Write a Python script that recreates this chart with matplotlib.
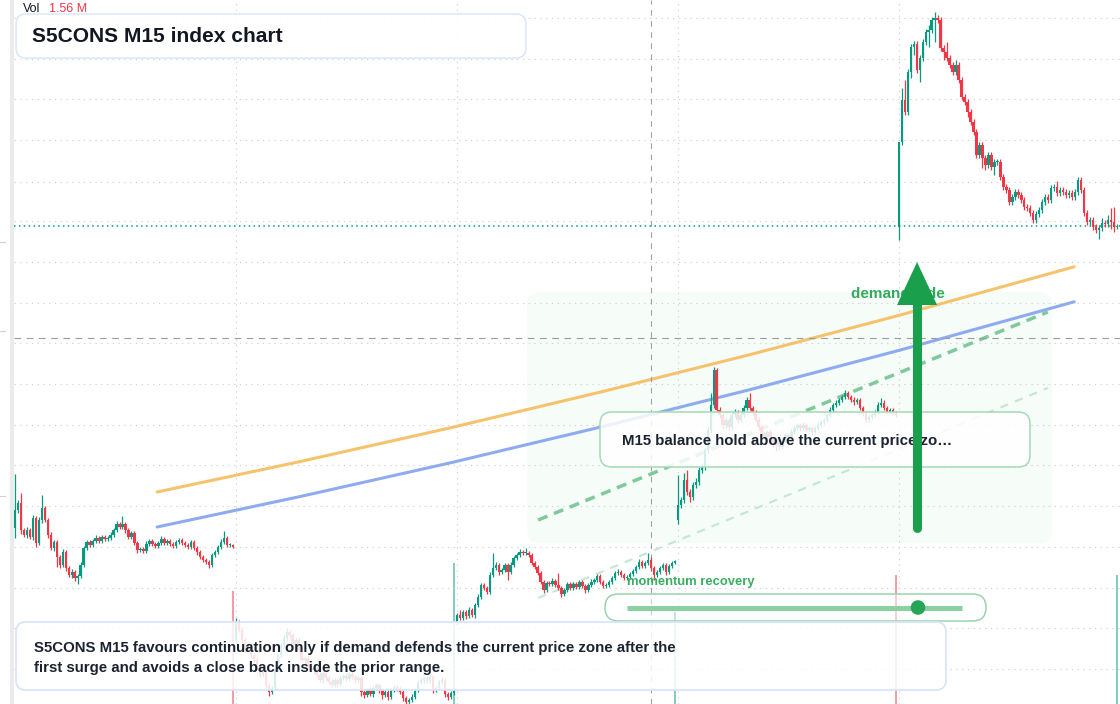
import numpy as np
import matplotlib
matplotlib.use("Agg")
import matplotlib.pyplot as plt
from matplotlib.patches import FancyBboxPatch, Rectangle, Polygon, Circle
from matplotlib.lines import Line2D

plt.rcParams['font.family'] = ['Liberation Sans', 'DejaVu Sans']

# ---------------- data (index points) ----------------
s1_close = [890, 897, 870, 865, 870, 863, 882, 857, 880, 892,
            880, 865, 852, 858, 843, 835, 848, 832, 825, 828,
            822, 824, 835, 852, 858, 855, 859, 862, 859, 863,
            861, 862, 865, 870, 876, 873, 876, 870, 863, 867,
            857, 850, 851, 849, 856, 859, 856, 854, 857, 861,
            857, 859, 856, 854, 858, 860, 857, 855, 853, 858,
            852, 848, 843, 840, 838, 835, 845, 848, 853, 858,
            862, 855, 855, 853]
s2_close = [778, 770, 760, 750, 755, 745, 740, 732, 725, 728,
            715, 708, 712, 730, 745, 755, 762, 768, 765, 755,
            760, 750, 740, 742, 735, 730, 732, 725, 720, 727,
            722, 718, 715, 720, 716, 722, 724, 721, 726, 723,
            720, 722, 708, 705, 710, 706, 712, 715, 710, 705,
            708, 703, 710, 713, 711, 708, 702, 698, 700, 703,
            710, 718, 720, 722, 719, 723, 710, 712, 718, 720,
            706, 703, 707, 710]
s3_close = [785, 782, 788, 784, 790, 785, 795, 803, 815, 812,
            808, 825, 832, 835, 828, 830, 835, 828, 835, 842,
            845, 848, 847, 847, 845, 837, 833, 827, 818, 810,
            817, 816, 819, 815, 812, 806, 810, 816, 812, 816,
            813, 818, 814, 810, 815, 818, 820, 824, 818, 814,
            815, 818, 822, 827, 828, 825, 822, 823, 826, 829,
            833, 838, 834, 837, 840, 832, 825, 828, 832, 835,
            828, 834, 837, 839]
s4_close = [895, 900, 920, 908, 903, 915, 918, 930, 933, 950,
            970, 995, 1030, 990, 985, 975, 980, 973, 985, 988,
            980, 985, 992, 1000, 992, 988, 980, 973, 967, 963,
            968, 960, 955, 960, 953, 960, 965, 963, 968, 972,
            975, 972, 975, 970, 972, 968, 972, 975, 978, 980,
            985, 990, 995, 997, 1000, 1003, 1007, 1003, 1000, 998,
            1000, 992, 987, 980, 983, 985, 988, 995, 997, 992,
            988, 990, 988, 985]
s5_close = [1258, 1300, 1288, 1328, 1353, 1356, 1330, 1342, 1358, 1368,
            1370, 1380, 1382, 1380, 1352, 1348, 1342, 1335, 1328, 1335,
            1320, 1303, 1298, 1288, 1278, 1268, 1245, 1255, 1242, 1235,
            1245, 1233, 1238, 1238, 1223, 1213, 1210, 1198, 1203, 1208,
            1205, 1200, 1193, 1192, 1187, 1180, 1186, 1190, 1198, 1203,
            1200, 1212, 1213, 1207, 1210, 1208, 1205, 1207, 1203, 1208,
            1220, 1210, 1187, 1178, 1180, 1173, 1170, 1172, 1177, 1176,
            1180, 1178, 1173, 1174]
session_open = [872, 760, 778, 880, 1173]

# upper / lower wick beyond the body (index points)
s1_up = [36, 3, 10, 2, 3, 2, 3, 2, 3, 13, 2, 2, 3, 2, 2, 2, 3, 2, 2, 3,
         2, 2, 3, 2, 2, 2, 2, 3, 2, 2, 2, 2, 3, 2, 3, 2, 8, 2, 2, 2,
         2, 2, 2, 2, 3, 2, 2, 2, 2, 3, 2, 2, 2, 2, 2, 2, 2, 2, 2, 2,
         2, 2, 2, 2, 2, 2, 2, 2, 2, 3, 7, 2, 2, 1]
s1_dn = [10, 3, 4, 2, 3, 2, 3, 4, 2, 3, 2, 3, 2, 3, 10, 3, 2, 3, 2, 3,
         3, 6, 2, 2, 2, 2, 2, 2, 2, 2, 2, 2, 2, 2, 2, 2, 2, 3, 2, 2,
         2, 3, 2, 2, 2, 2, 2, 2, 2, 2, 2, 2, 2, 2, 2, 2, 2, 2, 2, 2,
         2, 3, 2, 2, 2, 3, 2, 2, 2, 2, 2, 2, 2, 1]
s2_up = [4, 2, 3, 2, 3, 2, 2, 3, 2, 2, 3, 2, 2, 3, 2, 2, 3, 4, 2, 2,
         2, 3, 2, 2, 3, 2, 2, 2, 3, 2, 2, 2, 3, 2, 2, 2, 2, 3, 2, 2,
         2, 3, 2, 2, 2, 3, 2, 2, 2, 2, 3, 2, 2, 2, 2, 3, 2, 2, 2, 3,
         2, 2, 3, 2, 2, 3, 2, 2, 2, 3, 2, 2, 2, 2]
s2_dn = [3, 2, 3, 2, 2, 3, 2, 2, 3, 2, 3, 4, 2, 2, 2, 2, 2, 3, 2, 2,
         3, 2, 2, 3, 2, 2, 3, 2, 2, 3, 2, 2, 2, 2, 3, 2, 2, 2, 2, 2,
         3, 2, 4, 3, 2, 2, 3, 2, 3, 4, 2, 3, 2, 2, 2, 2, 3, 3, 4, 2,
         2, 2, 2, 3, 2, 2, 3, 2, 2, 2, 3, 3, 2, 2]
s3_up = [2, 5, 2, 2, 3, 2, 2, 3, 2, 2, 2, 3, 15, 3, 2, 2, 2, 2, 3, 2,
         2, 3, 2, 5, 2, 2, 2, 2, 2, 2, 2, 2, 3, 2, 12, 2, 2, 2, 2, 2,
         2, 2, 2, 2, 2, 3, 2, 2, 2, 2, 2, 2, 2, 2, 3, 2, 2, 2, 2, 2,
         2, 3, 2, 2, 7, 3, 2, 2, 2, 2, 2, 2, 2, 1]
s3_dn = [3, 2, 2, 3, 2, 2, 3, 2, 2, 2, 2, 2, 2, 2, 3, 2, 2, 8, 2, 2,
         2, 2, 2, 2, 2, 2, 2, 2, 2, 3, 2, 2, 2, 2, 2, 3, 2, 2, 2, 2,
         2, 2, 2, 3, 2, 2, 2, 2, 2, 2, 2, 2, 2, 2, 2, 2, 2, 2, 2, 2,
         2, 2, 2, 2, 2, 3, 5, 2, 2, 2, 3, 2, 2, 1]
s4_up = [30, 3, 7, 10, 3, 3, 4, 3, 3, 3, 3, 12, 3, 2, 3, 2, 3, 2, 3, 3,
         2, 3, 3, 3, 7, 2, 2, 3, 2, 2, 2, 3, 2, 2, 2, 3, 2, 2, 3, 2,
         2, 2, 3, 2, 2, 2, 2, 3, 2, 2, 2, 3, 2, 3, 2, 2, 3, 2, 2, 3,
         2, 2, 2, 2, 3, 2, 2, 3, 5, 3, 2, 2, 2, 1]
s4_dn = [4, 3, 3, 3, 5, 3, 3, 3, 3, 3, 3, 3, 3, 3, 3, 4, 3, 3, 3, 2,
         3, 2, 2, 2, 2, 3, 2, 2, 3, 2, 2, 3, 2, 6, 3, 2, 2, 2, 2, 2,
         2, 3, 2, 2, 2, 3, 2, 2, 2, 2, 2, 2, 2, 2, 2, 2, 2, 2, 2, 3,
         2, 2, 3, 2, 2, 2, 2, 2, 2, 2, 2, 2, 2, 2]
s5_up = [0, 12, 20, 3, 3, 3, 3, 3, 3, 3, 5, 3, 6, 3, 3, 3, 10, 3, 3, 5,
         3, 3, 3, 3, 3, 3, 3, 3, 3, 3, 3, 3, 3, 3, 3, 3, 3, 3, 3, 3,
         3, 3, 3, 3, 3, 3, 3, 3, 3, 3, 3, 3, 3, 6, 3, 3, 3, 3, 3, 3,
         3, 3, 3, 3, 3, 3, 3, 3, 5, 3, 5, 12, 15, 2]
s5_dn = [13, 3, 3, 3, 6, 8, 3, 12, 3, 3, 15, 3, 22, 3, 3, 8, 3, 3, 3, 3,
         3, 3, 3, 5, 3, 3, 3, 3, 10, 5, 3, 3, 8, 3, 3, 3, 3, 3, 3, 3,
         3, 3, 3, 3, 3, 3, 3, 3, 3, 3, 3, 3, 3, 3, 3, 3, 3, 3, 3, 3,
         3, 3, 3, 3, 3, 3, 3, 9, 3, 3, 3, 7, 5, 2]

session_volume_m = [1.25, 1.56, 1.02, 1.43, 1.43]   # closing-bar volume, millions
grid_levels = [731, 772, 812, 853, 894, 935, 975, 1016, 1057, 1097,
               1138, 1179, 1218, 1260, 1301, 1341, 1382]
last_price = 1174
crosshair_bar = 213
crosshair_price = 1062

ma_slow_bar = [47.6, 95.4, 145.7, 195.9, 246.2, 296.4, 354.7]
ma_slow_val = [908, 938.4, 972.1, 1007.8, 1045.4, 1084.9, 1133.2]
ma_fast_val = [873, 903.4, 937.1, 972.8, 1010.4, 1049.9, 1098.2]
channel_bar = [175.2, 345.9]
channel_upper = [880, 1088]
channel_lower = [802, 1012]
zone_bar = [171.5, 347.3]
zone_price = [857, 1108]
arrow_bar = 302.1
arrow_price = [872, 1138]

# ---------------- build OHLC ----------------
closes_s = [s1_close, s2_close, s3_close, s4_close, s5_close]
ups_s = [s1_up, s2_up, s3_up, s4_up, s5_up]
dns_s = [s1_dn, s2_dn, s3_dn, s4_dn, s5_dn]
o_list, c_list, h_list, l_list, sess_start, sess_end = [], [], [], [], [], []
n0 = 0
for op, cl, up, dn in zip(session_open, closes_s, ups_s, dns_s):
    cl = np.array(cl, float)
    op_arr = np.r_[op, cl[:-1]]
    hi = np.maximum(op_arr, cl) + np.array(up, float)
    lo = np.minimum(op_arr, cl) - np.array(dn, float)
    o_list.append(op_arr); c_list.append(cl); h_list.append(hi); l_list.append(lo)
    sess_start.append(n0)
    n0 += len(cl)
    sess_end.append(n0 - 1)
O = np.concatenate(o_list); C = np.concatenate(c_list)
H = np.concatenate(h_list); L = np.concatenate(l_list)
N = len(C)
idx = np.arange(N)

UP = '#089981'
DN = '#f23645'
col = np.where(C >= O, UP, DN)

# ---------------- figure ----------------
W, Hh = 1120, 704
fig = plt.figure(figsize=(W / 100, Hh / 100), dpi=100)
rect = [14 / W, 0, (W - 14) / W, 1]
xlim = (-0.335, 370.06)
ylim = (696, 1400)

axv = fig.add_axes(rect, zorder=-1)
axv.set_xlim(*xlim)
axv.set_ylim(0, 7.8)
axv.axis('off')
vcol = [col[i] for i in sess_end]
axv.vlines(sess_end, 0, session_volume_m, colors=vcol, linewidth=1.3, alpha=0.55)

ax = fig.add_axes(rect)
ax.set_autoscale_on(False)
ax.patch.set_alpha(0)
for s in ax.spines.values():
    s.set_visible(False)
ax.set_yticks(grid_levels)
ax.set_xticks(sess_start[1:])
ax.tick_params(length=0, labelleft=False, labelbottom=False)
ax.set_axisbelow(True)
ax.grid(True, color='#d2d2d2', linewidth=0.8, linestyle=(0, (1.2, 4.0)))

# zone
ax.add_patch(FancyBboxPatch((zone_bar[0], zone_price[0]), zone_bar[1] - zone_bar[0],
                            zone_price[1] - zone_price[0],
                            boxstyle='round,pad=0,rounding_size=4',
                            facecolor='#f6fcf8', edgecolor='none', zorder=0.3,
                            mutation_aspect=3))

# lines
ax.plot(ma_slow_bar, ma_slow_val, color='#f6c36d', lw=2.2, zorder=2, solid_capstyle='round')
ax.plot(ma_slow_bar, ma_fast_val, color='#8eabf0', lw=2.2, zorder=2, solid_capstyle='round')
ax.plot(channel_bar, channel_lower, color='#c3e7cf', lw=1.5, zorder=2,
        linestyle=(0, (4.0, 3.5)))
ax.plot(channel_bar, channel_upper, color='#7fca9b', lw=2.5, zorder=2.1,
        linestyle=(0, (2.9, 2.0)))

# crosshair and last price
ax.axvline(crosshair_bar, color='#a2a2a2', lw=0.8, linestyle=(0, (5, 5)), zorder=2.4)
ax.axhline(crosshair_price, color='#9c9c9c', lw=0.8, linestyle=(0, (6, 5)), zorder=2.4)
ax.axhline(last_price, color=UP, lw=1.1, linestyle=(0, (1, 2.2)), zorder=2.4)

# candles
ax.vlines(idx, L, H, colors=col, linewidth=0.9, zorder=2.9)
body_lo = np.minimum(O, C)
body_h = np.maximum(np.abs(C - O), 1.0)
ax.bar(idx, body_h, bottom=body_lo, width=0.82, color=col, linewidth=0, zorder=3)


# ---------------- overlay helpers ----------------
def box(x0, y0, x1, y1, r, fc, ec, lw, z):
    p = FancyBboxPatch((x0 / 100, (Hh - y1) / 100), (x1 - x0) / 100, (y1 - y0) / 100,
                       boxstyle=f'round,pad=0,rounding_size={r / 100}',
                       transform=fig.dpi_scale_trans, facecolor=fc, edgecolor=ec,
                       linewidth=lw, zorder=z, clip_on=False)
    ax.add_patch(p)


def txt(x, y, s, **kw):
    ax.text(x / W, 1 - y / Hh, s, transform=fig.transFigure, va='center', ha='left',
            clip_on=False, **kw)


DARK = '#1b2230'
# title
box(16, 14, 526, 58, 10, (1, 1, 1, 0.92), '#d3e2f8', 0.9, 4)
txt(32, 36.5, 'S5CONS M15 index chart', fontsize=15.1, fontweight='bold', color='#131722', zorder=5)
txt(23, 8.5, 'Vol', fontsize=9, color='#131722', zorder=5)
txt(49, 8.5, '1.56 M', fontsize=9, color='#f23645', zorder=5)

# middle note
box(600, 412, 1030, 467, 12, (1, 1, 1, 0.84), '#a5dab5', 1.1, 4)
txt(622, 441, 'M15 balance hold above the current price zo\u2026', fontsize=10.8,
    fontweight='bold', color=DARK, zorder=5)

# momentum slider
txt(627, 582.5, 'momentum recovery', fontsize=9.4, fontweight='bold', color='#3aae62', zorder=5)
box(605, 594, 986, 621, 13.5, (1, 1, 1, 0.5), '#98d4ab', 1.1, 4)
ax.add_line(Line2D([627 / W, 962 / W], [1 - 607.5 / Hh, 1 - 607.5 / Hh], transform=fig.transFigure,
                   color='#8bd0a1', lw=3.6, zorder=5, clip_on=False, solid_capstyle='butt'))
ax.add_patch(Circle((918 / 100, (Hh - 607.5) / 100), 7.3 / 100, transform=fig.dpi_scale_trans,
                    facecolor='#27a557', edgecolor='none', zorder=5.5, clip_on=False))

# bottom note
box(16, 622, 946, 690, 10, (1, 1, 1, 0.85), '#d6e4f8', 1.2, 4)
txt(34, 648, 'S5CONS M15 favours continuation only if demand defends the current price zone after the',
    fontsize=10.85, fontweight='bold', color=DARK, zorder=5)
txt(34, 668, 'first surge and avoids a close back inside the prior range.',
    fontsize=10.85, fontweight='bold', color=DARK, zorder=5)

# demand side label + arrow
txt(851, 293.5, 'demand side', fontsize=11, fontweight='bold', color='#34aa5c', zorder=5.8)
head_len = 43
head_half = 20 / ((W - 14) / (xlim[1] - xlim[0]))
ax.plot([arrow_bar, arrow_bar], [arrow_price[0], arrow_price[1] - head_len + 4],
        color='#1aa04c', lw=6.5, solid_capstyle='round', zorder=6)
ax.add_patch(Polygon([(arrow_bar - head_half, arrow_price[1] - head_len),
                      (arrow_bar + head_half, arrow_price[1] - head_len),
                      (arrow_bar, arrow_price[1])], closed=True,
                     facecolor='#1aa04c', edgecolor='none', zorder=6))

# left scale strip
fig.add_artist(Rectangle((10 / W, 0), 4 / W, 1, transform=fig.transFigure,
                         facecolor='#ebebeb', edgecolor='none'))
for yy in (242, 331, 496):
    fig.add_artist(Line2D([0, 5 / W], [1 - yy / Hh, 1 - yy / Hh], transform=fig.transFigure,
                          color='#d0d0d0', lw=0.8))

ax.set_xlim(*xlim)
ax.set_ylim(*ylim)
fig.savefig('out.png', dpi=100)
